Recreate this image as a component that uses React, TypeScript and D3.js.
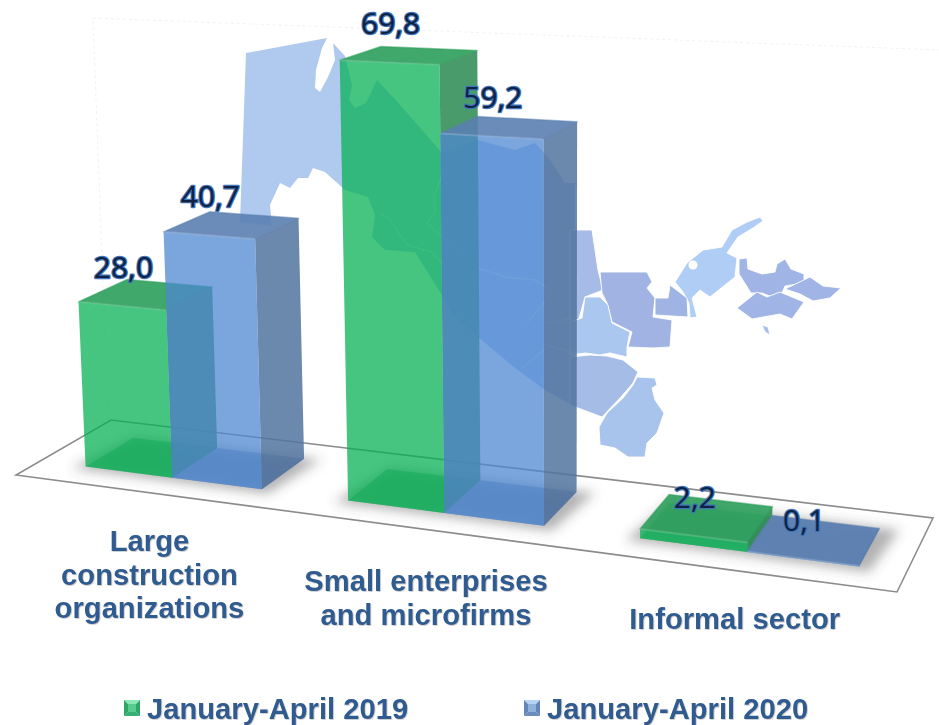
import React from "react";
import * as d3 from "d3";

type Pt = [number, number];

const categories = ["Large construction organizations", "Small enterprises and microfirms", "Informal sector"];
const categoryLines = [["Large", "construction", "organizations"], ["Small enterprises", "and microfirms"], ["Informal sector"]];
const categoryBaselines = [551, 591, 629];
const seriesNames = ["January-April 2019", "January-April 2020"];
const values2019 = [28.0, 69.8, 2.2];
const values2020 = [40.7, 59.2, 0.1];
const valueLabels2019 = ["28,0", "69,8", "2,2"];
const valueLabels2020 = ["40,7", "59,2", "0,1"];

// decorative background map outlines
const mapBody: Pt[] = [[246,53],[327,38],[322,48],[316,70],[315,88],[320,92],[328,77],[335,60],[333,43],[345,56],[352,85],[349,100],[355,108],[366,103],[377,80],[402,107],[442,153],[478,140],[515,150],[535,143],[548,157],[565,183],[575,183],[575,407],[545,390],[515,368],[478,337],[452,313],[445,300],[415,252],[385,250],[372,237],[375,215],[368,197],[345,190],[325,172],[313,168],[308,178],[298,178],[290,188],[280,183],[270,205],[272,226],[240,222]];
const mapRegionA: Pt[] = [[570,230],[592,230],[598,270],[603,290],[585,297],[578,322],[570,325]];
const mapRegionB: Pt[] = [[600,272],[647,272],[652,282],[647,288],[655,298],[653,317],[672,320],[670,347],[653,348],[628,347],[632,332],[612,322],[607,303],[602,293]];
const mapRegionC: Pt[] = [[585,297],[600,297],[608,305],[612,323],[630,332],[627,347],[627,357],[610,353],[600,355],[585,353],[570,355],[570,322],[582,318]];
const mapRegionD: Pt[] = [[570,357],[590,355],[607,356],[623,360],[638,372],[633,383],[620,398],[602,417],[570,405]];
const mapRegionE: Pt[] = [[637,377],[655,378],[657,385],[652,388],[655,400],[664,413],[657,433],[647,443],[645,457],[628,457],[615,448],[600,445],[599,427],[607,413],[623,398],[633,385]];
const mapRegionF: Pt[] = [[675,282],[687,263],[703,250],[722,247],[732,230],[747,222],[760,217],[763,221],[753,228],[738,237],[727,253],[737,258],[735,277],[710,297],[700,290],[692,298],[697,317],[690,318],[689,303],[683,292]];
const mapRegionG: Pt[] = [[655,298],[668,298],[670,285],[687,298],[688,317],[655,315]];
const mapRegionH: Pt[] = [[739,259],[747,258],[748,269],[762,274],[775,272],[777,264],[785,259],[791,269],[804,274],[804,283],[785,286],[782,293],[772,297],[762,293],[751,293],[739,274]];
const mapRegionI: Pt[] = [[785,289],[810,277],[823,286],[841,288],[830,298],[813,301],[800,294]];
const mapRegionJ: Pt[] = [[737,308],[757,292],[767,297],[780,292],[804,302],[792,319],[780,314],[752,319]];
const mapRegionK: Pt[] = [[762,325],[768,327],[770,335],[765,332]];
const mapBorders: Pt[][] = [
  [[378,213],[388,217],[407,245],[432,252],[445,267],[475,267],[505,277],[535,280],[548,288]],
  [[448,160],[435,193],[435,213],[427,223],[445,240],[468,260]],
  [[527,323],[552,293]],[[547,323],[575,318]],[[548,347],[522,368]],[[545,345],[585,355]],
];
const mapFills: [Pt[], string][] = [
  [mapRegionA, "#a6bbe6"],[mapRegionB, "#a0b3e3"],[mapRegionC, "#aac7ef"],[mapRegionD, "#a5bce7"],[mapRegionE, "#a9c4ec"],
  [mapRegionF, "#b0cef5"],[mapRegionG, "#a0b4e3"],[mapRegionH, "#a0b5e6"],[mapRegionI, "#a0b5e6"],[mapRegionJ, "#a0b5e6"],[mapRegionK, "#a8bfea"],
];

// floor plane: homography from the unit square (u along categories, v into the depth)
const floorCorners: Pt[] = [[16,475],[897,592],[933,518],[111,420]];
function makeHomography(q: Pt[]) {
  const [[x0,y0],[x1,y1],[x2,y2],[x3,y3]] = q;
  const sx = x0-x1+x2-x3, sy = y0-y1+y2-y3;
  const dx1 = x1-x2, dx2 = x3-x2, dy1 = y1-y2, dy2 = y3-y2;
  const den = dx1*dy2-dx2*dy1;
  const g = (sx*dy2-dx2*sy)/den, h = (dx1*sy-sx*dy1)/den;
  const a = x1-x0+g*x1, b = x3-x0+h*x3, d = y1-y0+g*y1, e = y3-y0+h*y3;
  return (u: number, v: number) => {
    const w = g*u+h*v+1;
    return { x: (a*u+b*v+x0)/w, y: (d*u+e*v+y0)/w, w };
  };
}
const project = makeHomography(floorCorners);

const uGroup = d3.scaleBand<string>().domain(categories).range([0.0605, 0.953]).paddingInner(0.317);
const uSeries = d3.scaleBand<string>().domain(seriesNames).range([0, uGroup.bandwidth()]);
const vDepth = d3.scaleLinear().domain([0, 1]).range([0.245, 0.76]);
const yHeight = d3.scaleLinear().domain([0, 100]).range([-5, 607]);
const path = d3.line<Pt>().x(p => p[0]).y(p => p[1]).curve(d3.curveLinearClosed);
const openPath = d3.line<Pt>().x(p => p[0]).y(p => p[1]);

const base = (u: number, v: number): Pt => { const p = project(u, v); return [p.x, p.y]; };
const top = (u: number, v: number, val: number): Pt => {
  const p = project(u, v);
  const h = Math.max(0.5, yHeight(val)) / p.w;
  return [p.x + (p.x - 560) * 9e-5 * h, p.y - h];
};

const palette = [
  { front: "#06b154", side: "#2a8952", cap: "#2a9e5a", floor: "#1a8f55", floorOp: 0.42 },
  { front: "#4d87d1", side: "#51739f", cap: "#5b7fb1", floor: "#2f5c98", floorOp: 0.4 },
];
const legendTints = [
  ["#8ce8b4", "#35b072", "#2ea868", "#58cc8e"],
  ["#b6d2f4", "#6a8cbc", "#6486b6", "#92b0dc"],
];
const textBlue = "#2f5b91";

function Bar({ cat, si, val }: { cat: string; si: number; val: number }) {
  const c = palette[si];
  const u0 = (uGroup(cat) as number) + (uSeries(seriesNames[si]) as number);
  const u1 = u0 + uSeries.bandwidth();
  const v0 = vDepth(0), v1 = vDepth(1);
  const fl = top(u0, v0, val), fr = top(u1, v0, val), bl = top(u0, v1, val), br = top(u1, v1, val);
  return (
    <g>
      <path d={path([base(u0,v0), base(u1,v0), base(u1,v1), base(u0,v1)])!} fill={c.floor} fillOpacity={c.floorOp} />
      <path d={path([fl, fr, br, bl])!} fill={c.cap} fillOpacity={0.9} stroke={c.cap} strokeOpacity={0.5} strokeWidth={1.5} strokeLinejoin="round" />
      <path d={path([fr, br, base(u1,v1), base(u1,v0)])!} fill={c.side} fillOpacity={0.85} />
      <path d={path([fl, fr, base(u1,v0), base(u0,v0)])!} fill={c.front} fillOpacity={0.74} />
      <path d={openPath([fl, fr])!} stroke="#ffffff" strokeOpacity={0.18} strokeWidth={2} fill="none" />
    </g>
  );
}

function Label({ cat, si, val, label }: { cat: string; si: number; val: number; label: string }) {
  const u0 = (uGroup(cat) as number) + (uSeries(seriesNames[si]) as number);
  const u1 = u0 + uSeries.bandwidth();
  const v0 = vDepth(0);
  const fl = top(u0, v0, val), fr = top(u1, v0, val);
  return (
    <text x={(fl[0] + fr[0]) / 2 + 1} y={(fl[1] + fr[1]) / 2 - 28} textAnchor="middle" fontFamily="'Open Sans', sans-serif" fontSize={30}
      fontWeight={500} fill="#0f2244" stroke="#3f74b8" strokeWidth={2.4} paintOrder="stroke" strokeLinejoin="round">{label}</text>
  );
}

function Swatch({ x, y, tint }: { x: number; y: number; tint: string[] }) {
  const s = 16, i = 4;
  const a: Pt = [x, y], b: Pt = [x+s, y], c: Pt = [x+s, y+s], d: Pt = [x, y+s];
  const ia: Pt = [x+i, y+i], ib: Pt = [x+s-i, y+i], ic: Pt = [x+s-i, y+s-i], id: Pt = [x+i, y+s-i];
  return (
    <g>
      <path d={path([a,b,ib,ia])!} fill={tint[0]} />
      <path d={path([b,c,ic,ib])!} fill={tint[2]} />
      <path d={path([c,d,id,ic])!} fill={tint[1]} />
      <path d={path([d,a,ia,id])!} fill={tint[2]} />
      <path d={path([ia,ib,ic,id])!} fill={tint[3]} />
    </g>
  );
}

export default function App() {
  const legendX = [124, 524];
  return (
    <svg width={939} height={725} style={{ position: "fixed", left: 0, top: 0, background: "#fff" }}>
      <defs>
        <filter id="soft" x="-30%" y="-60%" width="160%" height="220%"><feGaussianBlur stdDeviation="6" /></filter>
        <filter id="mapblur" x="-5%" y="-5%" width="110%" height="110%"><feGaussianBlur stdDeviation="0.6" /></filter>
        <filter id="txt" x="-5%" y="-10%" width="110%" height="130%">
          <feDropShadow dx="0.8" dy="0.8" stdDeviation="0.6" floodColor="#8a8a8a" floodOpacity="0.5" />
        </filter>
      </defs>

      <path d={openPath([[108,420],[93,18],[940,50]])!} fill="none" stroke="#e9e9e9" strokeWidth={1} strokeDasharray="3 3" strokeOpacity={0.6} />

      <g filter="url(#mapblur)">
        <path d={path(mapBody)!} fill="#b0c9ef" />
        {mapFills.map(([pts, col], i) => (
          <path key={i} d={path(pts)!} fill={col} stroke="#ffffff" strokeWidth={0.9} strokeLinejoin="round" />
        ))}
        <circle cx={693} cy={265} r={4.5} fill="#fff" />
        {mapBorders.map((pts, i) => (
          <path key={i} d={openPath(pts)!} fill="none" stroke="#ffffff" strokeOpacity={0.55} strokeWidth={1} />
        ))}
      </g>

      <path d={path(floorCorners)!} fill="none" stroke="#8c8c8c" strokeWidth={1.6} />

      {categories.map(cat => {
        const u0 = uGroup(cat) as number, u1 = u0 + uGroup.bandwidth();
        const v0 = vDepth(0), v1 = vDepth(1);
        return (
          <path key={cat} filter="url(#soft)" fill="#4a4a4a" fillOpacity={0.42}
            d={path([base(u0-0.012,v0-0.05), base(u1+0.012,v0-0.05), base(u1+0.02,v1+0.02), base(u0,v1+0.02)])!} />
        );
      })}

      {categories.map((cat, i) => (
        <g key={cat}>
          <Bar cat={cat} si={0} val={values2019[i]} />
          <Bar cat={cat} si={1} val={values2020[i]} />
        </g>
      ))}

      {categories.map((cat, i) => (
        <g key={cat}>
          <Label cat={cat} si={0} val={values2019[i]} label={valueLabels2019[i]} />
          <Label cat={cat} si={1} val={values2020[i]} label={valueLabels2020[i]} />
        </g>
      ))}

      <g filter="url(#txt)" fontFamily="'Liberation Sans', Arial, sans-serif" fontWeight={700} fontSize={29.2} fill={textBlue}>
        {categories.map((cat, i) => {
          const cx = base((uGroup(cat) as number) + uGroup.bandwidth() / 2, 0)[0];
          return categoryLines[i].map((line, j) => (
            <text key={line} x={cx} y={categoryBaselines[i] + j * 33.5} textAnchor="middle">{line}</text>
          ));
        })}
        {seriesNames.map((s, i) => (
          <text key={s} x={legendX[i] + 23} y={719}>{s}</text>
        ))}
      </g>
      {seriesNames.map((s, i) => (
        <Swatch key={s} x={legendX[i]} y={700} tint={legendTints[i]} />
      ))}
    </svg>
  );
}
